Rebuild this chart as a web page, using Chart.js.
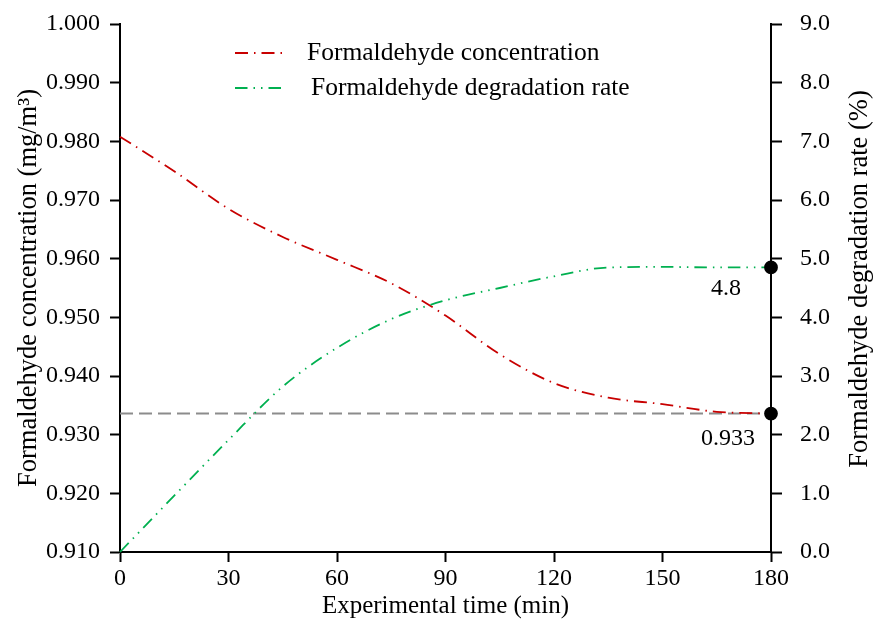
<!DOCTYPE html>
<html>
<head>
<meta charset="utf-8">
<title>Formaldehyde</title>
<script src="https://cdn.jsdelivr.net/npm/chart.js@4.4.1/dist/chart.umd.min.js"></script>
<style>
  html, body { margin: 0; padding: 0; background: #fff; }
  #chart { display: block; }
</style>
</head>
<body>
<canvas id="chart" width="875" height="622"></canvas>
<script>
// ── Daten ────────────────────────────────────────────────────
const times         = [0, 15, 30, 45, 60, 75, 90, 105, 120, 135, 150, 165, 180];
const concentration = [0.9808, 0.9749, 0.9685, 0.9637, 0.9598, 0.9558, 0.9503, 0.9437, 0.9388, 0.9363, 0.9352, 0.9339, 0.9336];
const degradation   = [0, 0.96, 1.91, 2.82, 3.48, 3.97, 4.29, 4.50, 4.70, 4.85, 4.86, 4.85, 4.85];

const refTimes  = [0, 180];
const refLevel  = 0.9336;
const endLabels = ['0.933', '4.8'];

const xTicks     = [0, 30, 60, 90, 120, 150, 180];
const leftTicks  = [0.910, 0.920, 0.930, 0.940, 0.950, 0.960, 0.970, 0.980, 0.990, 1.000];
const rightTicks = [0, 1, 2, 3, 4, 5, 6, 7, 8, 9];

const seriesNames = ['Formaldehyde concentration', 'Formaldehyde degradation rate'];

const FONT  = "'Liberation Serif', 'Times New Roman', serif";
const RED   = '#c80000';
const GREEN = '#00b050';

// nur der letzte Punkt bekommt einen schwarzen Marker
const lastOnly = arr => arr.map((_, i) => (i === arr.length - 1 ? 6 : 0));

// ── Eigene Zeichnungen: Legende, rechter Titel, Endwerte ─────
const extras = {
  id: 'extras',
  afterDraw(chart) {
    const { ctx, scales } = chart;
    const x = scales.x, yl = scales.y, yr = scales.y2;
    ctx.save();
    ctx.fillStyle = '#000';
    ctx.font = '25.5px ' + FONT;
    ctx.textBaseline = 'middle';

    // Legende
    const legend = [
      { y: 53, text: seriesNames[0], tx: 307, ds: chart.data.datasets[1] },
      { y: 88, text: seriesNames[1], tx: 311, ds: chart.data.datasets[2] }
    ];
    legend.forEach(it => {
      ctx.save();
      ctx.strokeStyle = it.ds.borderColor;
      ctx.lineWidth = 2;
      ctx.setLineDash(it.ds.borderDash);
      ctx.beginPath();
      ctx.moveTo(235, it.y);
      ctx.lineTo(283, it.y);
      ctx.stroke();
      ctx.restore();
      ctx.textAlign = 'left';
      ctx.fillText(it.text, it.tx, it.y);
    });

    // Titel rechte Achse (von unten nach oben)
    ctx.save();
    ctx.font = '26.5px ' + FONT;
    ctx.translate(860, 279);
    ctx.rotate(-Math.PI / 2);
    ctx.textAlign = 'center';
    ctx.fillText('Formaldehyde degradation rate (%)', 0, 0);
    ctx.restore();

    // Endwerte
    ctx.font = '24px ' + FONT;
    ctx.textAlign = 'center';
    const xe = x.getPixelForValue(times[times.length - 1]);
    ctx.fillText(endLabels[0], xe - 43, yl.getPixelForValue(concentration[concentration.length - 1]) + 25);
    ctx.fillText(endLabels[1], xe - 45, yr.getPixelForValue(degradation[degradation.length - 1]) + 21);
    ctx.restore();
  }
};

const axisGrid = len => ({
  drawOnChartArea: false,
  drawTicks: true,
  tickLength: len,
  tickWidth: 2,
  tickColor: '#000'
});
const axisBorder = { display: true, color: '#000', width: 2 };

new Chart(document.getElementById('chart'), {
  type: 'line',
  data: {
    datasets: [
      {
        // Referenzlinie 0.933
        data: refTimes.map(t => ({ x: t, y: refLevel })),
        yAxisID: 'y',
        borderColor: '#8c8c8c',
        borderWidth: 2,
        borderDash: [13, 6],
        pointRadius: 0,
        order: 3
      },
      {
        label: seriesNames[0],
        data: times.map((t, i) => ({ x: t, y: concentration[i] })),
        yAxisID: 'y',
        borderColor: RED,
        borderWidth: 1.8,
        borderDash: [13, 6, 1.5, 6],
        cubicInterpolationMode: 'monotone',
        pointRadius: lastOnly(times),
        pointBackgroundColor: '#000',
        pointBorderColor: '#000',
        clip: false,
        order: 2
      },
      {
        label: seriesNames[1],
        data: times.map((t, i) => ({ x: t, y: degradation[i] })),
        yAxisID: 'y2',
        borderColor: GREEN,
        borderWidth: 1.8,
        borderDash: [12.5, 6, 1.5, 6, 1.5, 6],
        cubicInterpolationMode: 'monotone',
        pointRadius: lastOnly(times),
        pointBackgroundColor: '#000',
        pointBorderColor: '#000',
        clip: false,
        order: 1
      }
    ]
  },
  options: {
    responsive: false,
    animation: false,
    layout: { padding: { top: 24, left: 0, right: 0, bottom: 0 } },
    plugins: {
      legend: { display: false },
      tooltip: { enabled: false }
    },
    scales: {
      x: {
        type: 'linear',
        min: 0,
        max: 180,
        afterBuildTicks: s => { s.ticks = xTicks.map(v => ({ value: v })); },
        afterFit: s => { s.height = 70; },
        ticks: { color: '#000', font: { family: FONT, size: 24 }, padding: 2, maxRotation: 0 },
        grid: axisGrid(10),
        border: axisBorder,
        title: {
          display: true,
          text: 'Experimental time (min)',
          color: '#000',
          font: { family: FONT, size: 25 },
          padding: { top: 0, bottom: 1 }
        }
      },
      y: {
        position: 'left',
        min: 0.91,
        max: 1.0,
        afterBuildTicks: s => { s.ticks = leftTicks.map(v => ({ value: v })); },
        afterFit: s => { s.width = 120; },
        ticks: { color: '#000', font: { family: FONT, size: 24, lineHeight: 0.5 }, padding: 10, callback: v => v.toFixed(3) },
        grid: axisGrid(10),
        border: axisBorder,
        title: {
          display: true,
          text: 'Formaldehyde concentration (mg/m³)',
          color: '#000',
          font: { family: FONT, size: 26.5 },
          padding: { top: 13, bottom: 0 }
        }
      },
      y2: {
        position: 'right',
        min: 0,
        max: 9,
        afterBuildTicks: s => { s.ticks = rightTicks.map(v => ({ value: v })); },
        afterFit: s => { s.width = 104; },
        ticks: { color: '#000', font: { family: FONT, size: 24, lineHeight: 0.4 }, padding: 18, callback: v => v.toFixed(1) },
        grid: axisGrid(11),
        border: axisBorder
      }
    }
  },
  plugins: [extras]
});
</script>
</body>
</html>
